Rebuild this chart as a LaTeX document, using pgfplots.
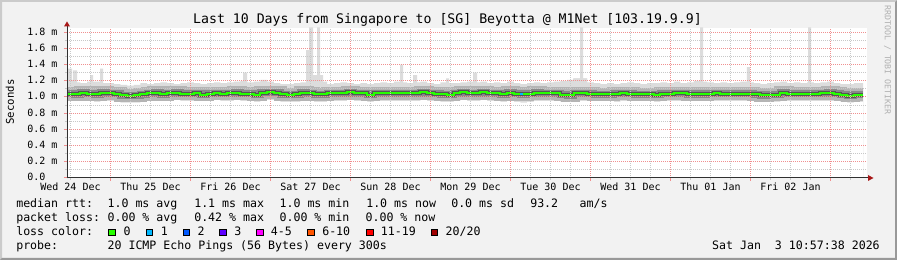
\documentclass[border=0pt]{standalone}
\usepackage{pgfplots}
\pgfplotsset{compat=1.18}
\usepackage{pgfplotstable}
\usepackage{fontspec}
\setmainfont{DejaVu Sans Mono}

\definecolor{bgc}{HTML}{F2F2F2}
\definecolor{shadeA}{HTML}{CBCBCB}
\definecolor{shadeB}{HTML}{999999}
\definecolor{mgrid}{HTML}{F09090}
\definecolor{ngrid}{HTML}{C8C8C8}
\definecolor{axisc}{HTML}{303030}
\definecolor{arrowc}{HTML}{A81818}
\definecolor{smokeA}{HTML}{DCDCDC}
\definecolor{smokeB}{HTML}{B4B4B4}
\definecolor{smokeC}{HTML}{888888}
\definecolor{smokeD}{HTML}{555555}
\definecolor{lc0}{HTML}{26FF00}
\definecolor{lc1}{HTML}{00B8FF}
\definecolor{lc2}{HTML}{0059FF}
\definecolor{lc3}{HTML}{5E00FF}
\definecolor{lc4}{HTML}{FF00FF}
\definecolor{lc6}{HTML}{FF5500}
\definecolor{lc11}{HTML}{FF0000}
\definecolor{lc20}{HTML}{A00000}
\definecolor{wmark}{HTML}{B0B0B0}

% t = hours since Wed 24 Dec 00:00
\pgfplotstableread{
t lo3 med hi3
11 0.95 1.041 1.21
13 0.95 1.035 1.18
15 0.96 1.050 1.17
17 0.95 1.041 1.19
19 0.94 1.035 1.19
21 0.95 1.050 1.17
23 0.95 1.045 1.17
25 0.94 1.040 1.16
27 0.93 1.020 1.15
29 0.93 1.016 1.14
31 0.93 1.020 1.15
33 0.94 1.035 1.17
35 0.95 1.045 1.16
37 0.95 1.050 1.17
39 0.95 1.035 1.18
41 0.95 1.045 1.17
43 0.96 1.050 1.16
45 0.95 1.041 1.17
47 0.95 1.041 1.18
49 0.95 1.045 1.17
51 0.95 1.030 1.16
53 0.95 1.041 1.17
55 0.96 1.045 1.18
57 0.95 1.041 1.17
59 0.95 1.045 1.18
61 0.96 1.053 1.19
63 0.95 1.041 1.20
65 0.95 1.041 1.18
67 0.94 1.030 1.19
69 0.95 1.053 1.21
71 0.96 1.058 1.19
73 0.95 1.050 1.17
75 0.94 1.035 1.16
77 0.94 1.030 1.16
79 0.94 1.035 1.17
81 0.95 1.055 1.18
83 0.95 1.045 1.20
85 0.94 1.032 1.22
87 0.94 1.035 1.19
89 0.95 1.045 1.16
91 0.95 1.045 1.17
93 0.95 1.045 1.18
95 0.96 1.058 1.17
97 0.95 1.045 1.16
99 0.95 1.045 1.17
101 0.94 1.028 1.16
103 0.95 1.045 1.17
105 0.95 1.045 1.18
107 0.95 1.045 1.17
109 0.95 1.045 1.19
111 0.95 1.045 1.18
113 0.95 1.045 1.17
115 0.95 1.045 1.18
117 0.96 1.060 1.19
119 0.95 1.045 1.17
121 0.95 1.040 1.16
123 0.94 1.037 1.18
125 0.94 1.030 1.17
127 0.95 1.045 1.17
129 0.96 1.058 1.18
131 0.95 1.045 1.19
133 0.95 1.045 1.18
135 0.96 1.058 1.19
137 0.95 1.045 1.17
139 0.95 1.045 1.18
141 0.94 1.035 1.17
143 0.95 1.055 1.19
145 0.94 1.040 1.17
147 0.93 1.035 1.16
149 0.94 1.040 1.17
151 0.95 1.055 1.18
153 0.95 1.045 1.17
155 0.95 1.045 1.18
157 0.95 1.045 1.19
159 0.94 1.030 1.20
161 0.94 1.020 1.21
163 0.95 1.045 1.23
165 0.95 1.045 1.23
167 0.95 1.040 1.18
169 0.95 1.037 1.17
171 0.95 1.037 1.16
173 0.95 1.037 1.17
175 0.94 1.040 1.16
177 0.95 1.045 1.17
179 0.95 1.040 1.18
181 0.95 1.037 1.17
183 0.95 1.033 1.16
185 0.95 1.037 1.17
187 0.94 1.030 1.17
189 0.95 1.043 1.18
191 0.95 1.040 1.17
193 0.95 1.045 1.19
195 0.95 1.045 1.17
197 0.95 1.035 1.18
199 0.95 1.040 1.20
201 0.95 1.035 1.19
203 0.95 1.040 1.18
205 0.95 1.045 1.17
207 0.95 1.041 1.18
209 0.95 1.041 1.17
211 0.95 1.041 1.18
213 0.95 1.041 1.19
215 0.95 1.041 1.18
217 0.95 1.035 1.17
219 0.94 1.020 1.16
221 0.94 1.030 1.17
223 0.94 1.030 1.18
225 0.95 1.055 1.19
227 0.95 1.041 1.17
229 0.95 1.041 1.18
231 0.95 1.041 1.17
233 0.95 1.041 1.18
235 0.95 1.040 1.17
237 0.95 1.045 1.18
239 0.95 1.055 1.19
241 0.95 1.041 1.17
243 0.94 1.025 1.16
245 0.93 1.016 1.16
247 0.94 1.030 1.17
249.8 0.94 1.030 1.17
}\smoke

\pgfplotstableread{
t top
10.96 1.10
11.3 1.35
12.5 1.10
12.8 1.33
14.0 1.10
17.9 1.27
18.8 1.10
20.9 1.35
21.8 1.10
63.8 1.30
65.0 1.10
82.7 1.58
83.6 1.86
84.8 1.27
86.0 1.86
86.9 1.27
87.8 1.10
110.9 1.40
111.8 1.10
114.8 1.27
116.0 1.10
124.7 1.23
125.6 1.10
132.8 1.30
134.0 1.10
162.8 1.23
164.9 1.86
165.8 1.23
167.0 1.10
200.9 1.86
201.8 1.10
214.9 1.37
215.8 1.10
233.3 1.86
234.2 1.10
249.8 1.10
}\spikes

\begin{document}
\begin{tikzpicture}
\begin{scope}[x=0.75pt,y=-0.75pt,yshift=195pt]
  \useasboundingbox (0,0) rectangle (897,260);
  \fill[bgc] (0,0) rectangle (897,260);
  \fill[shadeA] (0,0) -- (897,0) -- (895,2) -- (2,2) -- (2,258) -- (0,260) -- cycle;
  \fill[shadeB] (897,0) -- (897,260) -- (0,260) -- (2,258) -- (895,258) -- (895,2) -- cycle;
  \fill[white] (67,28) rectangle (867,178);
\end{scope}

\begin{axis}[
  at={(50.25pt,61.5pt)}, anchor=south west,
  scale only axis, width=600pt, height=112.5pt,
  xmin=10.96, xmax=250.96, ymin=0, ymax=1.8519,
  axis on top,
  axis line style={draw=none},
  xtick pos=bottom, ytick pos=left,
  tick align=outside,
  major tick length=2.25pt, minor tick length=1.5pt,
  xtick={24,48,72,96,120,144,168,192,216,240},
  xticklabels={},
  minor xtick={12,18,30,36,42,54,60,66,78,84,90,102,108,114,126,132,138,150,156,162,174,180,186,198,204,210,222,228,234,246},
  extra x ticks={12,36,60,84,108,132,156,180,204,228},
  extra x tick labels={Wed 24 Dec,Thu 25 Dec,Fri 26 Dec,Sat 27 Dec,Sun 28 Dec,Mon 29 Dec,Tue 30 Dec,Wed 31 Dec,Thu 01 Jan,Fri 02 Jan},
  extra x tick style={xmajorgrids=false, major tick length=0pt},
  ytick={0,0.2,0.4,0.6,0.8,1.0,1.2,1.4,1.6,1.8},
  yticklabels={0.0,0.2 m,0.4 m,0.6 m,0.8 m,1.0 m,1.2 m,1.4 m,1.6 m,1.8 m},
  minor ytick={0.1,0.3,0.5,0.7,0.9,1.1,1.3,1.5,1.7},
  grid=both,
  major grid style={draw=mgrid, line width=0.75pt, dash pattern=on 0.75pt off 0.75pt},
  minor grid style={draw=ngrid, line width=0.75pt, dash pattern=on 0.75pt off 0.75pt},
  major tick style={draw=mgrid, line width=0.75pt},
  minor tick style={draw=ngrid, line width=0.75pt},
  tick label style={font=\fontsize{7.5}{9}\selectfont, inner sep=0pt},
  xticklabel style={anchor=base, yshift=-9.4pt},
  yticklabel style={anchor=base west, xshift=-27.75pt, yshift=-2.25pt},
]
% spikes (light smoke outliers), filled down to the axis
\addplot[const plot, fill=smokeA, draw=none, forget plot] table[x=t, y=top] {\spikes} \closedcycle;
% outer smoke: fill up to the upper envelope, then clear below the lower envelope
\addplot[const plot, fill=smokeA, draw=none, forget plot] table[x=t, y=hi3] {\smoke} \closedcycle;
\addplot[const plot, fill=white, draw=none, forget plot] table[x=t, y=lo3] {\smoke} \closedcycle;
% inner smoke around the median
\addplot[const plot, draw=smokeB, line width=9.75pt, forget plot] table[x=t, y=med] {\smoke};
\addplot[const plot, draw=smokeC, line width=5.25pt, forget plot] table[x=t, y=med] {\smoke};
\addplot[const plot, draw=smokeD, line width=3pt, forget plot] table[x=t, y=med] {\smoke};
% median rtt coloured by loss
\addplot[const plot, draw=lc0, line width=1.5pt, forget plot] table[x=t, y=med] {\smoke};
\addplot[const plot, draw=lc1, line width=1.5pt, forget plot] coordinates {(146.9,1.035) (147.8,1.035)};
\end{axis}

\begin{scope}[x=0.75pt,y=-0.75pt,yshift=195pt]
  % axes with arrows
  \draw[axisc, line width=0.75pt] (67,178.5) -- (67,25);
  \draw[axisc, line width=0.75pt] (66.5,178) -- (869,178);
  \fill[arrowc] (67,21.5) -- (64,26.5) -- (70,26.5) -- cycle;
  \fill[arrowc] (873.5,178) -- (868,175) -- (868,181) -- cycle;
  % title
  \node[anchor=base, inner sep=0pt, font=\fontsize{9.9}{12}\selectfont] at (447.5,24) {Last 10 Days from Singapore to [SG] Beyotta @ M1Net [103.19.9.9]};
  % y label
  \node[anchor=base, rotate=90, inner sep=0pt, font=\fontsize{8}{10}\selectfont] at (14,102) {Seconds};
  % watermark
  \node[anchor=center, rotate=-90, inner sep=0pt, text=wmark, font=\fontsize{6.2}{8}\selectfont] at (887.5,60) {RRDTOOL / TOBI OETIKER};
  % legend
  \begin{scope}[every node/.style={anchor=base west, inner sep=0pt, font=\fontsize{8.7}{10}\selectfont}]
    \node at (16,208) {median rtt:};
    \node at (107.3,208) {1.0 ms avg};
    \node at (194,208) {1.1 ms max};
    \node at (279.3,208) {1.0 ms min};
    \node at (366,208) {1.0 ms now};
    \node at (451,208) {0.0 ms sd};
    \node at (530,208) {93.2};
    \node at (579.3,208) {am/s};
    \node at (16,222) {packet loss:};
    \node at (107.3,222) {0.00 \% avg};
    \node at (194,222) {0.42 \% max};
    \node at (279.3,222) {0.00 \% min};
    \node at (365.3,222) {0.00 \% now};
    \node at (16,236) {loss color:};
    \node at (123.3,236) {0};
    \node at (160.7,236) {1};
    \node at (197.3,236) {2};
    \node at (234,236) {3};
    \node at (270.7,236) {4-5};
    \node at (322,236) {6-10};
    \node at (380.7,236) {11-19};
    \node at (445.3,236) {20/20};
    \node at (16,250) {probe:};
    \node at (107.3,250) {20 ICMP Echo Pings (56 Bytes) every 300s};
    \node[anchor=base east] at (880,250) {Sat Jan\ \ 3 10:57:38 2026};
  \end{scope}
  \foreach \bx/\bc in {108.3/lc0,145.7/lc1,182.7/lc2,219.3/lc3,256/lc4,307.3/lc6,366/lc11,430.5/lc20}{
    \filldraw[fill=\bc, draw=black, line width=0.75pt] (\bx+0.5,229.5) rectangle (\bx+7,236);
  }
\end{scope}
\end{tikzpicture}
\end{document}
